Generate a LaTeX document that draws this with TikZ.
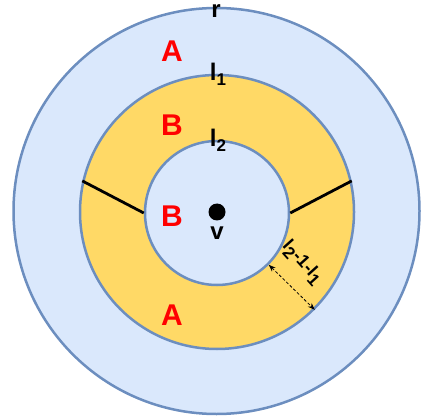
\documentclass[tikz,border=0pt]{standalone}
\usepackage{fontspec}
\setmainfont{Liberation Sans}
\usetikzlibrary{arrows.meta,positioning}
\definecolor{ringblue}{HTML}{DAE8FC}
\definecolor{ringline}{HTML}{6C8EBF}
\definecolor{ringgold}{HTML}{FFD966}
\newcommand{\lsub}[1]{{\fontsize{17}{17}\selectfont\raisebox{-5pt}{#1}}}
\tikzset{ring/.style={draw=ringline,line width=2.5pt,circle,inner sep=0pt},
zone/.style={text=red,font=\fontsize{30}{30}\selectfont\bfseries},
lab/.style={font=\fontsize{24}{24}\selectfont\bfseries,inner sep=0pt}}

\begin{document}
\begin{tikzpicture}[x=1pt,y=-1pt]
\useasboundingbox (0,0) rectangle (422,419);
\node[ring,fill=ringblue,minimum size=406pt] (outer) at (216.5,211) {};
\node[ring,fill=ringgold,minimum size=274pt] (mid) at (217,212) {};
\node[ring,fill=ringblue,minimum size=144pt] (inner) at (217,213) {};
\draw[line width=2.8pt] (inner.west)--(mid.167);
\draw[line width=2.8pt] (inner.east)--(mid.13);
\draw[densely dashed,line width=0.8pt,{Stealth[length=7pt]}-{Stealth[length=7pt]}] (inner.-45)--(mid.-45);
\node[circle,fill=black,inner sep=0pt,minimum size=17pt] (v) at (217,212) {};
\node[lab,below=6pt of v] (vlab) {v};
\node[lab] (r) at (216,11) {r};
\node[lab] (l1) at (218,74) {l\lsub{1}};
\node[lab] (l2) at (218,140) {l\lsub{2}};
\node[zone] (a1) at (172,51) {A};
\node[zone] (b1) at (172,125) {B};
\node[zone] (b2) at (172,216) {B};
\node[zone] (a2) at (172,315) {A};
\node[font=\fontsize{18}{18}\selectfont\bfseries,rotate=-48,inner sep=0pt] (gap) at (302,263) {l\lsub{2}-1-l\lsub{1}};
\end{tikzpicture}
\end{document}
